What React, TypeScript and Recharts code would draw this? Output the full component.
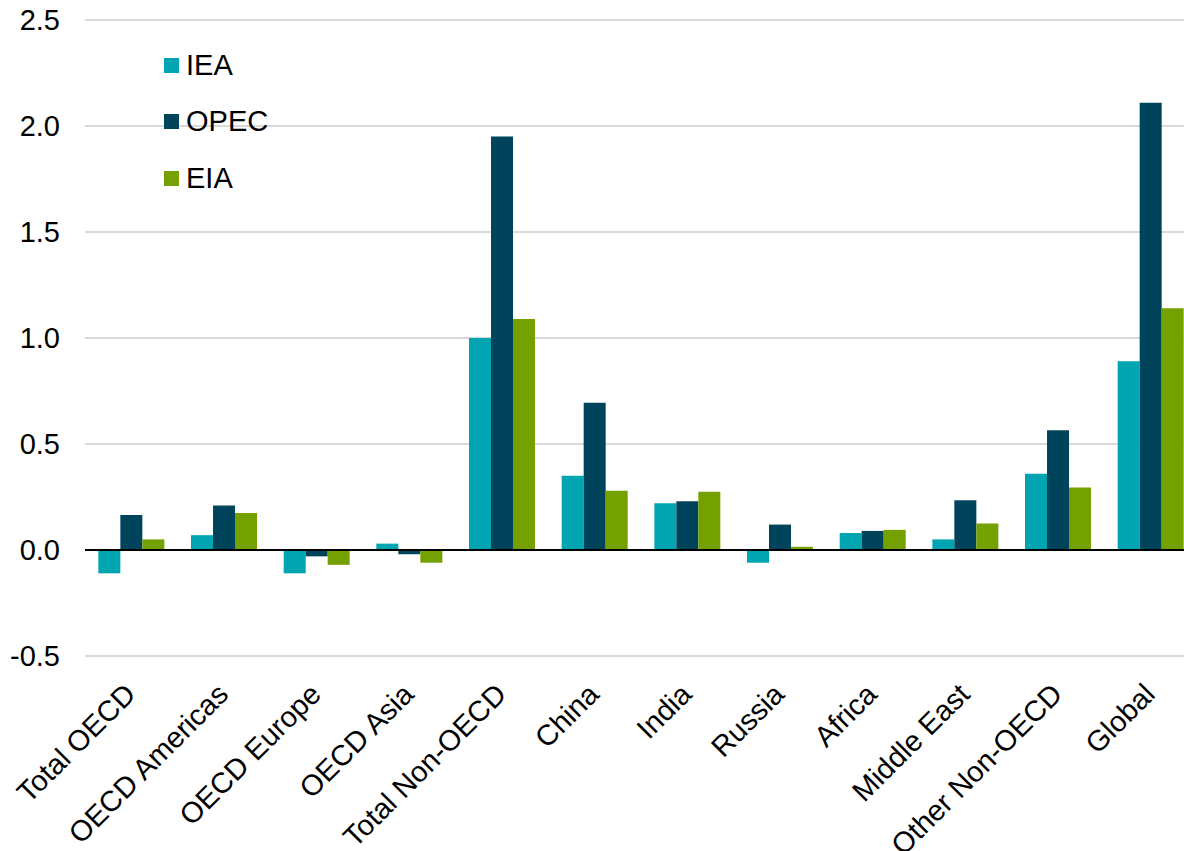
import { BarChart, Bar, XAxis, YAxis, CartesianGrid, ReferenceLine, Legend } from 'recharts'

const categories = [
  'Total OECD',
  'OECD Americas',
  'OECD Europe',
  'OECD Asia',
  'Total Non-OECD',
  'China',
  'India',
  'Russia',
  'Africa',
  'Middle East',
  'Other Non-OECD',
  'Global',
]
const iea = [-0.11, 0.07, -0.11, 0.03, 1.0, 0.35, 0.22, -0.06, 0.08, 0.05, 0.36, 0.89]
const opec = [0.165, 0.21, -0.03, -0.02, 1.95, 0.695, 0.23, 0.12, 0.09, 0.235, 0.565, 2.11]
const eia = [0.05, 0.175, -0.07, -0.06, 1.09, 0.28, 0.275, 0.015, 0.095, 0.125, 0.295, 1.14]
const yTicks = [-0.5, 0, 0.5, 1.0, 1.5, 2.0, 2.5]

const series = [
  { key: 'iea', name: 'IEA', color: '#00a5b1' },
  { key: 'opec', name: 'OPEC', color: '#00445b' },
  { key: 'eia', name: 'EIA', color: '#74a000' },
]

const data = categories.map((c, i) => ({ name: c, iea: iea[i], opec: opec[i], eia: eia[i] }))

const FONT = '"Liberation Sans", Arial, sans-serif'
const FS = 29

function XTick(props: any) {
  const { x, y, payload } = props
  const tx = x + 6
  const ty = y + 32
  return (
    <text
      x={tx}
      y={ty}
      textAnchor="end"
      transform={`rotate(-45, ${tx}, ${ty})`}
      fontSize={FS}
      fontFamily={FONT}
      fill="#000"
    >
      {payload.value}
    </text>
  )
}

function LegendBox() {
  return (
    <div style={{ fontFamily: FONT, fontSize: FS, color: '#000' }}>
      {series.map((s) => (
        <div key={s.key} style={{ display: 'flex', alignItems: 'center', height: 56.5 }}>
          <span style={{ width: 15, height: 15, background: s.color, marginRight: 7, display: 'inline-block' }} />
          {s.name}
        </div>
      ))}
    </div>
  )
}

export default function App() {
  return (
    <div style={{ position: 'absolute', left: 0, top: 0, width: 1184, height: 851, overflow: 'hidden', background: '#fff' }}>
      <BarChart
        width={1197}
        height={851}
        data={data}
        margin={{ top: 20, right: 0, left: 0, bottom: 0 }}
        barCategoryGap="14.4%"
        barGap={0}
      >
        <CartesianGrid vertical={false} stroke="#d9d9d9" strokeWidth={2} />
        <XAxis
          dataKey="name"
          axisLine={false}
          tickLine={false}
          height={195}
          interval={0}
          tick={<XTick />}
        />
        <YAxis
          domain={[-0.5, 2.5]}
          ticks={yTicks}
          width={85}
          axisLine={false}
          tickLine={false}
          tickMargin={19}
          tickFormatter={(v: number) => v.toFixed(1)}
          tick={{ fontSize: FS, fontFamily: FONT, fill: '#000' }}
        />
        <Legend
          layout="vertical"
          verticalAlign="middle"
          align="center"
          content={<LegendBox />}
          wrapperStyle={{ top: 37, left: 164, width: 150 }}
        />
        {series.map((s) => (
          <Bar key={s.key} dataKey={s.key} name={s.name} fill={s.color} isAnimationActive={false} />
        ))}
        <ReferenceLine y={0} stroke="#000" strokeWidth={2} />
      </BarChart>
    </div>
  )
}
